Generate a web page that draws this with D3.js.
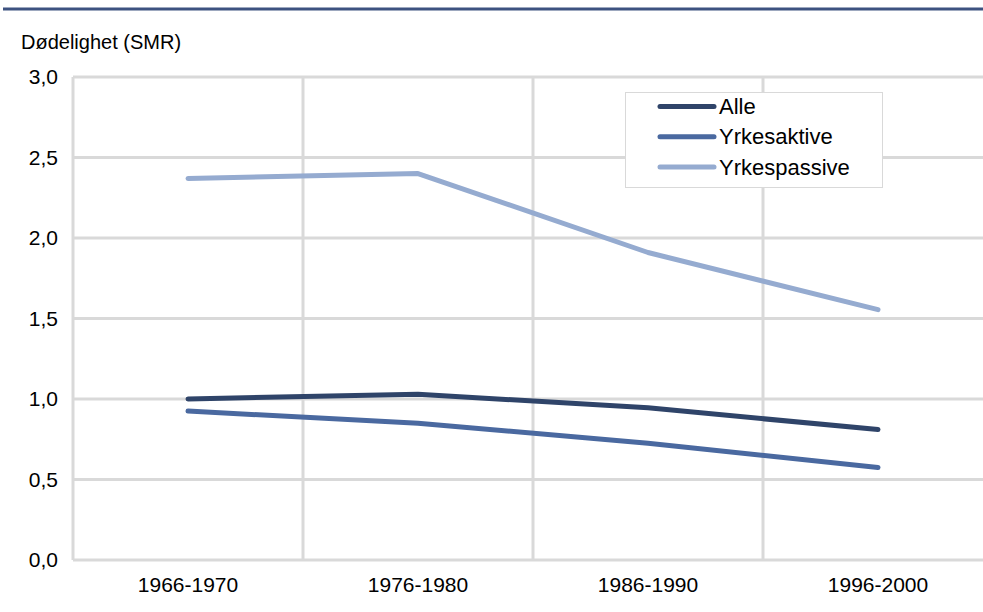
<!DOCTYPE html>
<html>
<head>
<meta charset="utf-8">
<script src="https://cdn.jsdelivr.net/npm/d3@7"></script>
<style>
  body { margin: 0; background: #fff; }
  text { font-family: "Liberation Sans", Arial, sans-serif; fill: #000; }
</style>
</head>
<body>
<div id="chart"></div>
<script>
const periods = ["1966-1970", "1976-1980", "1986-1990", "1996-2000"];
const alle = [1.00, 1.03, 0.945, 0.81];
const yrkesaktive = [0.925, 0.85, 0.725, 0.575];
const yrkespassive = [2.37, 2.40, 1.91, 1.555];
const seriesNames = ["Alle", "Yrkesaktive", "Yrkespassive"];
const yTicks = [0, 0.5, 1, 1.5, 2, 2.5, 3];

const colors = ["#2f4469", "#4a69a0", "#95abd0"];
const width = 983, height = 612;

const svg = d3.select("#chart").append("svg")
  .attr("width", width)
  .attr("height", height);

// top rule
svg.append("line")
  .attr("x1", 3).attr("x2", width)
  .attr("y1", 9).attr("y2", 9)
  .attr("stroke", "#3d5280").attr("stroke-width", 3);

const x = d3.scaleBand().domain(periods).range([73, 993]);
const y = d3.scaleLinear().domain([0, 3]).range([560, 77]);

// horizontal grid
svg.append("g").selectAll("line")
  .data(yTicks)
  .enter().append("line")
  .attr("x1", 73).attr("x2", width)
  .attr("y1", d => y(d)).attr("y2", d => y(d))
  .attr("stroke", "#d9d9d9").attr("stroke-width", 3);

// vertical grid at band edges
svg.append("g").selectAll("line")
  .data(periods)
  .enter().append("line")
  .attr("x1", d => x(d)).attr("x2", d => x(d))
  .attr("y1", y(3)).attr("y2", y(0))
  .attr("stroke", "#d9d9d9").attr("stroke-width", 3);

// y labels
svg.append("g").selectAll("text")
  .data(yTicks)
  .enter().append("text")
  .attr("x", 58)
  .attr("y", d => y(d) + 7)
  .attr("text-anchor", "end")
  .style("font-size", "21px")
  .text(d => d3.format(".1f")(d).replace(".", ","));

// x labels
svg.append("g").selectAll("text")
  .data(periods)
  .enter().append("text")
  .attr("x", d => x(d) + x.bandwidth() / 2)
  .attr("y", 592)
  .attr("text-anchor", "middle")
  .style("font-size", "21px")
  .text(d => d);

svg.append("text")
  .attr("x", 21).attr("y", 49)
  .style("font-size", "20px")
  .text("Dødelighet (SMR)");

const line = d3.line()
  .x((d, i) => x(periods[i]) + x.bandwidth() / 2)
  .y(d => y(d));

[alle, yrkesaktive, yrkespassive].forEach((vals, i) => {
  svg.append("path")
    .datum(vals)
    .attr("d", line)
    .attr("fill", "none")
    .attr("stroke", colors[i])
    .attr("stroke-width", 5)
    .attr("stroke-linecap", "round")
    .attr("stroke-linejoin", "round");
});

// legend
svg.append("rect")
  .attr("x", 625.5).attr("y", 92.5)
  .attr("width", 257).attr("height", 95)
  .attr("fill", "#fff").attr("stroke", "#d9d9d9").attr("stroke-width", 1);

const legend = svg.selectAll(".legend")
  .data(seriesNames)
  .enter().append("g")
  .attr("class", "legend")
  .attr("transform", (d, i) => `translate(0,${106.5 + i * 30.3})`);

legend.append("line")
  .attr("x1", 660).attr("x2", 714)
  .attr("stroke", (d, i) => colors[i])
  .attr("stroke-width", 5)
  .attr("stroke-linecap", "round");

legend.append("text")
  .attr("x", 719).attr("y", 7.5)
  .style("font-size", "22px")
  .text(d => d);
</script>
</body>
</html>
